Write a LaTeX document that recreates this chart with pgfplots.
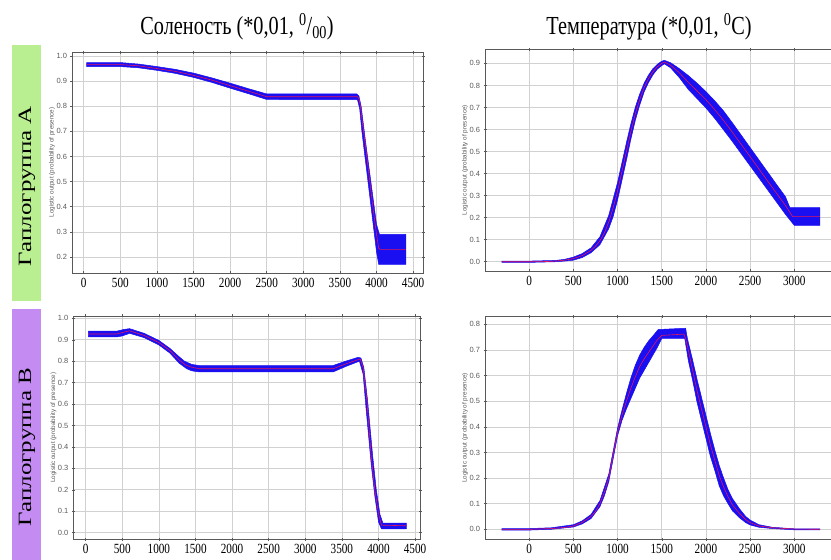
\documentclass[border=0pt]{standalone}
\usepackage{pgfplots}
\pgfplotsset{compat=1.18}
\usepackage{fontspec}
\setmainfont{Liberation Serif}
\newfontfamily\sansf{Liberation Sans}
\definecolor{bandblue}{RGB}{25,15,240}
\definecolor{meanred}{RGB}{230,20,90}
\definecolor{boxgreen}{RGB}{185,238,145}
\definecolor{boxpurple}{RGB}{196,140,242}
\pgfplotsset{
  maxent/.style={
    scale only axis, anchor=south west,
    axis line style={draw=black!65, line width=0.7pt},
    grid=major, grid style={draw=black!18, line width=0.6pt},
    tick style={draw=black!65, line width=0.5pt},
    major tick length=3pt, tick align=center,
    /pgf/number format/assume math mode=true,
    /pgf/number format/1000 sep={},
    xticklabel style={font=\fontsize{14}{14}\selectfont, xscale=0.8, text=black},
    yticklabel style={font=\sansf\fontsize{7.5}{7.5}\selectfont, text=black!65},
    yticklabel={\pgfmathprintnumber[fixed,fixed zerofill,precision=1]{\tick}},
    ylabel={Logistic output (probability of presence)},
    ylabel style={font=\sansf\fontsize{6.3}{6.3}\selectfont, text=black!65, at={(axis description cs:-0.057,0.5)}, anchor=center},
  },
  band/.style={draw=bandblue, fill=bandblue, line width=0.5pt, line join=round},
  mean/.style={draw=meanred, line width=0.6pt, line join=round},
}
\begin{document}
\begin{tikzpicture}
\useasboundingbox (0pt,0pt) rectangle (831pt,560pt);
\fill[boxgreen] (12pt,259pt) rectangle (41pt,515pt);
\fill[boxpurple] (12pt,0pt) rectangle (41pt,250.7pt);
\node[rotate=90, yscale=0.75, font=\fontsize{25}{25}\selectfont] at (27pt,374pt) {Гаплогруппа А};
\node[rotate=90, yscale=0.75, font=\fontsize{25}{25}\selectfont] at (27pt,113pt) {Гаплогруппа В};
\node[xscale=0.78, font=\fontsize{26}{26}\selectfont] at (237pt,533pt) {Соленость (*0,01, \textsuperscript{0}/\textsubscript{00})};
\node[xscale=0.78, font=\fontsize{26}{26}\selectfont] at (649pt,533pt) {Температура (*0,01, \textsuperscript{0}C)};

% Top-left: salinity, haplogroup A
\begin{axis}[maxent, at={(72pt,287pt)}, width=351pt, height=221pt,
  xmin=-160, xmax=4635, ymin=0.136, ymax=1.016,
  xtick={0,500,1000,1500,2000,2500,3000,3500,4000,4500},
  ytick={0.2,0.3,0.4,0.5,0.6,0.7,0.8,0.9,1.0}]
\addplot[band] coordinates {(40,0.974) (500,0.974) (750,0.968) (1000,0.958) (1250,0.947) (1500,0.932) (1750,0.913) (2000,0.892) (2250,0.87) (2500,0.849) (3730,0.849) (3760,0.84) (3790,0.80) (3850,0.66) (3900,0.55) (3950,0.44) (4000,0.33) (4040,0.29) (4400,0.29)
 (4400,0.17) (4030,0.17) (4000,0.22) (3950,0.34) (3900,0.46) (3850,0.58) (3800,0.70) (3770,0.79) (3740,0.826) (2500,0.827) (2250,0.85) (2000,0.872) (1750,0.895) (1500,0.915) (1250,0.931) (1000,0.943) (750,0.953) (500,0.958) (40,0.958)} -- cycle;
\addplot[mean] coordinates {(40,0.966) (500,0.966) (750,0.961) (1000,0.950) (1250,0.939) (1500,0.923) (1750,0.904) (2000,0.882) (2250,0.86) (2500,0.838) (3740,0.838) (3760,0.83) (3780,0.80) (3800,0.75) (3850,0.64) (3900,0.52) (3950,0.40) (4000,0.29) (4030,0.235) (4050,0.23) (4400,0.23)};
\end{axis}

% Top-right: temperature, haplogroup A
\begin{axis}[maxent, at={(485pt,289pt)}, width=352pt, height=221.7pt,
  xmin=-500, xmax=3483, ymin=-0.042, ymax=0.964,
  xtick={0,500,1000,1500,2000,2500,3000},
  ytick={0,0.1,0.2,0.3,0.4,0.5,0.6,0.7,0.8,0.9}]
\addplot[band] coordinates {(-310,0.003) (0,0.003) (300,0.006) (400,0.011) (500,0.021) (600,0.037) (700,0.063) (800,0.113) (900,0.21) (950,0.285) (1000,0.36) (1050,0.45) (1100,0.54) (1150,0.625) (1200,0.70) (1250,0.76) (1300,0.81) (1350,0.847) (1400,0.876) (1450,0.896) (1500,0.91) (1530,0.914) (1600,0.903) (1700,0.876) (1800,0.845) (1900,0.81) (2000,0.772) (2100,0.73) (2200,0.684) (2300,0.63) (2400,0.574) (2500,0.518) (2600,0.462) (2700,0.406) (2800,0.35) (2900,0.295) (2950,0.245) (3290,0.245)
 (3290,0.165) (3000,0.165) (2900,0.215) (2800,0.27) (2700,0.325) (2600,0.38) (2500,0.435) (2400,0.49) (2300,0.545) (2200,0.598) (2100,0.65) (2000,0.698) (1900,0.74) (1800,0.782) (1700,0.835) (1600,0.88) (1530,0.898) (1500,0.89) (1450,0.874) (1400,0.848) (1350,0.813) (1300,0.77) (1250,0.71) (1200,0.64) (1150,0.555) (1100,0.46) (1050,0.37) (1000,0.28) (950,0.205) (900,0.15) (800,0.077) (700,0.041) (600,0.019) (500,0.007) (400,0.003) (300,0) (0,-0.003) (-310,-0.003)} -- cycle;
\addplot[mean] coordinates {(-310,0) (0,0) (200,0.001) (300,0.003) (400,0.007) (500,0.014) (600,0.028) (700,0.052) (750,0.07) (800,0.095) (850,0.13) (900,0.18) (950,0.245) (1000,0.32) (1050,0.41) (1100,0.50) (1150,0.59) (1200,0.67) (1250,0.735) (1300,0.79) (1350,0.83) (1400,0.862) (1450,0.885) (1500,0.90) (1530,0.906) (1600,0.892) (1700,0.857) (1800,0.814) (1900,0.775) (2000,0.735) (2100,0.69) (2200,0.641) (2300,0.587) (2400,0.532) (2500,0.477) (2600,0.421) (2700,0.365) (2800,0.31) (2900,0.255) (2980,0.205) (3290,0.205)};
\end{axis}

% Bottom-left: salinity, haplogroup B
\begin{axis}[maxent, at={(73.3pt,20.7pt)}, width=346.7pt, height=223.3pt,
  xmin=-169, xmax=4567, ymin=-0.031, ymax=1.011,
  xtick={0,500,1000,1500,2000,2500,3000,3500,4000,4500},
  ytick={0,0.1,0.2,0.3,0.4,0.5,0.6,0.7,0.8,0.9,1.0}]
\addplot[band] coordinates {(36,0.94) (420,0.94) (520,0.948) (600,0.952) (800,0.93) (1000,0.897) (1150,0.86) (1280,0.82) (1350,0.80) (1450,0.785) (1550,0.78) (3380,0.78) (3550,0.80) (3720,0.818) (3760,0.815) (3800,0.77) (3850,0.62) (3920,0.36) (3970,0.2) (4020,0.085) (4060,0.045) (4380,0.045)
 (4380,0.018) (4040,0.018) (4000,0.05) (3950,0.17) (3900,0.32) (3830,0.58) (3790,0.74) (3740,0.8) (3700,0.795) (3550,0.775) (3380,0.75) (1550,0.75) (1450,0.755) (1380,0.765) (1280,0.79) (1150,0.838) (1000,0.876) (800,0.91) (600,0.93) (500,0.918) (420,0.913) (36,0.913)} -- cycle;
\addplot[mean] coordinates {(36,0.927) (420,0.927) (600,0.942) (800,0.92) (1000,0.887) (1150,0.85) (1280,0.805) (1360,0.783) (1450,0.772) (1550,0.765) (3380,0.765) (3550,0.787) (3720,0.807) (3750,0.81) (3790,0.77) (3840,0.62) (3900,0.36) (3950,0.2) (4000,0.09) (4040,0.035) (4380,0.032)};
\end{axis}

% Bottom-right: temperature, haplogroup B
\begin{axis}[maxent, at={(485pt,20.7pt)}, width=352pt, height=222.6pt,
  xmin=-500, xmax=3483, ymin=-0.039, ymax=0.83,
  xtick={0,500,1000,1500,2000,2500,3000},
  ytick={0,0.1,0.2,0.3,0.4,0.5,0.6,0.7,0.8}]
\addplot[band] coordinates {(-310,0.003) (0,0.003) (250,0.006) (500,0.018) (600,0.033) (700,0.058) (800,0.112) (900,0.215) (950,0.305) (1000,0.395) (1050,0.465) (1100,0.53) (1150,0.59) (1200,0.64) (1250,0.68) (1300,0.71) (1350,0.735) (1400,0.755) (1460,0.78) (1770,0.785) (1790,0.745) (1850,0.66) (1900,0.585) (1950,0.515) (2000,0.445) (2050,0.375) (2100,0.31) (2150,0.25) (2200,0.2) (2250,0.155) (2300,0.12) (2380,0.08) (2450,0.05) (2500,0.036) (2600,0.018) (2750,0.008) (3000,0.002) (3290,0.002)
 (3290,-0.002) (3000,-0.002) (2750,0.003) (2600,0.008) (2500,0.017) (2450,0.026) (2380,0.045) (2300,0.072) (2250,0.10) (2200,0.13) (2150,0.17) (2100,0.23) (2050,0.285) (2000,0.355) (1950,0.425) (1900,0.495) (1850,0.58) (1800,0.66) (1760,0.745) (1500,0.745) (1450,0.71) (1400,0.68) (1350,0.65) (1300,0.62) (1250,0.59) (1200,0.55) (1150,0.51) (1100,0.47) (1050,0.425) (1000,0.365) (950,0.275) (900,0.185) (850,0.13) (800,0.088) (700,0.042) (600,0.021) (500,0.009) (250,0) (0,-0.003) (-310,-0.003)} -- cycle;
\addplot[mean] coordinates {(-310,0) (0,0) (250,0.003) (400,0.007) (500,0.013) (600,0.027) (700,0.05) (750,0.07) (800,0.1) (850,0.145) (900,0.2) (950,0.29) (1000,0.38) (1050,0.445) (1100,0.5) (1150,0.55) (1200,0.595) (1250,0.635) (1300,0.665) (1350,0.69) (1400,0.715) (1450,0.74) (1500,0.757) (1750,0.762) (1770,0.745) (1800,0.70) (1850,0.62) (1900,0.54) (1950,0.47) (2000,0.40) (2050,0.33) (2100,0.27) (2150,0.21) (2200,0.165) (2250,0.127) (2300,0.095) (2380,0.062) (2450,0.038) (2500,0.026) (2600,0.013) (2750,0.006) (3000,0.001) (3290,0)};
\end{axis}
\end{tikzpicture}
\end{document}
